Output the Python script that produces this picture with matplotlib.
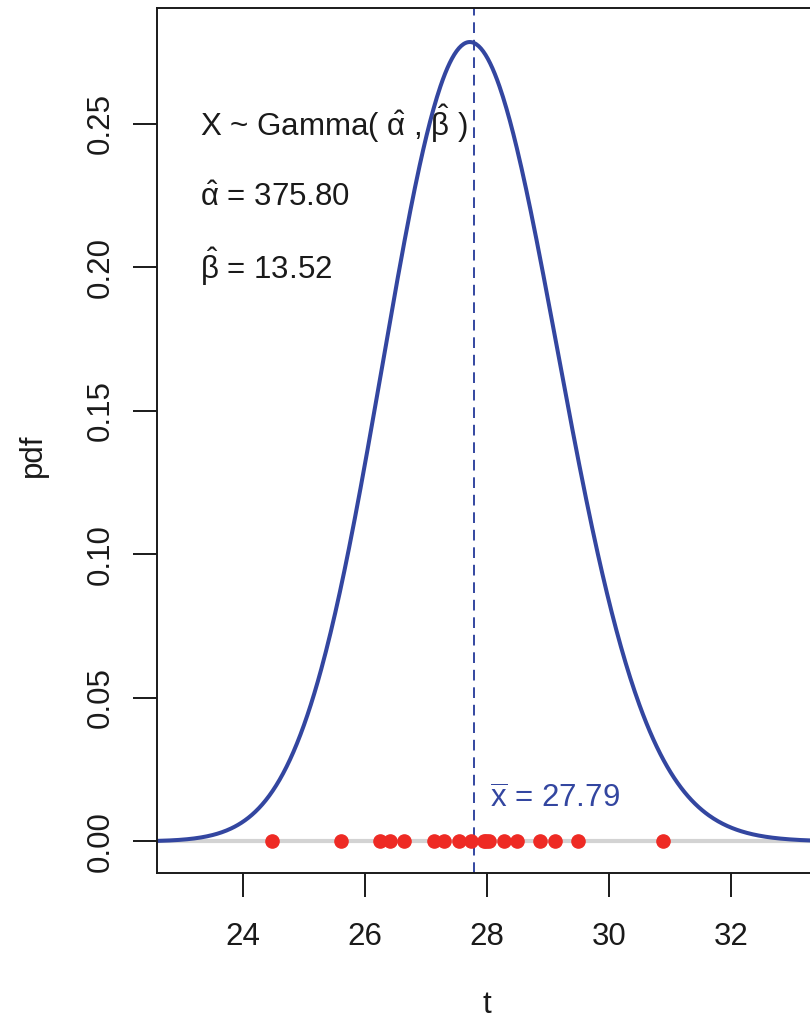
import math

import numpy as np
import matplotlib
matplotlib.use("Agg")
import matplotlib.pyplot as plt

plt.rcParams["font.family"] = ["Liberation Sans", "DejaVu Sans"]
plt.rcParams["mathtext.fontset"] = "custom"
plt.rcParams["mathtext.rm"] = "Liberation Sans"
plt.rcParams["mathtext.it"] = "Liberation Sans"

# fitted gamma parameters and sample mean
alpha_hat = 375.80
beta_hat = 13.52
x_bar = 27.79

# observed sample
obs = [24.48, 25.61, 26.25, 26.42, 26.65, 27.14, 27.30, 27.54, 27.74,
       27.95, 27.99, 28.04, 28.29, 28.50, 28.88, 29.12, 29.50, 30.89]

x_ticks = [24, 26, 28, 30, 32]
y_ticks = [0.00, 0.05, 0.10, 0.15, 0.20, 0.25]

CURVE = "#3346A0"
POINTS = "#EE2A24"
ZERO_LINE = "#D3D3D3"
INK = "#1a1a1a"

FS = 22.5


def gamma_pdf(t, a, b):
    return np.exp(a * np.log(b) + (a - 1) * np.log(t) - b * t - math.lgamma(a))


fig = plt.figure(figsize=(8.1, 10.21), dpi=100)
W, H = 810, 1021
left, right, top, bottom = 157, 850, 8, 873
ax = fig.add_axes([left / W, (H - bottom) / H, (right - left) / W, (bottom - top) / H])

xmin, xmax = 22.597, 22.597 + (right - left) / 61.03
ax.set_xlim(xmin, xmax)
ax.set_ylim(-0.0110, 0.2904)

t = np.linspace(xmin, xmax, 600)
ax.axhline(0, color=ZERO_LINE, lw=3.0, zorder=1)
ax.plot(t, gamma_pdf(t, alpha_hat, beta_hat), color=CURVE, lw=2.9, zorder=2)
ax.axvline(x_bar, color=CURVE, lw=1.4, dashes=(5.5, 3.5), zorder=2)
ax.plot(obs, np.zeros(len(obs)), "o", color=POINTS, ms=9.5, mec=POINTS, zorder=3)

ax.text(23.30, 0.2458, r"X ~ Gamma( $\hat{\alpha}$ , $\hat{\beta}$ )",
        fontsize=FS, va="baseline", ha="left", color=INK)
ax.text(23.30, 0.2213, r"$\hat{\alpha}$ = %.2f" % alpha_hat,
        fontsize=FS, va="baseline", ha="left", color=INK)
ax.text(23.30, 0.1960, r"$\hat{\beta}$ = %.2f" % beta_hat,
        fontsize=FS, va="baseline", ha="left", color=INK)
ax.text(28.05, 0.0117, r"$\overline{x}$ = %.2f" % x_bar,
        fontsize=FS, va="baseline", ha="left", color=CURVE)

ax.set_xticks(x_ticks)
ax.set_xticklabels([str(v) for v in x_ticks])
ax.set_yticks(y_ticks)
ax.set_yticklabels(["%.2f" % v for v in y_ticks], rotation=90, va="center")
ax.tick_params(direction="out", length=17, width=1.4, labelsize=FS,
               colors=INK, pad=13)
ax.tick_params(axis="x", pad=18)

for side in ("left", "top", "bottom"):
    ax.spines[side].set_linewidth(1.4)
    ax.spines[side].set_color(INK)
ax.spines["right"].set_visible(False)

fig.text(33 / W, 1 - 455 / H, "pdf", rotation=90, fontsize=FS,
         ha="center", va="center", color=INK)
fig.text(487 / W, 1 - 1005 / H, "t", fontsize=FS,
         ha="center", va="center", color=INK)

fig.savefig("out.png", dpi=100)
